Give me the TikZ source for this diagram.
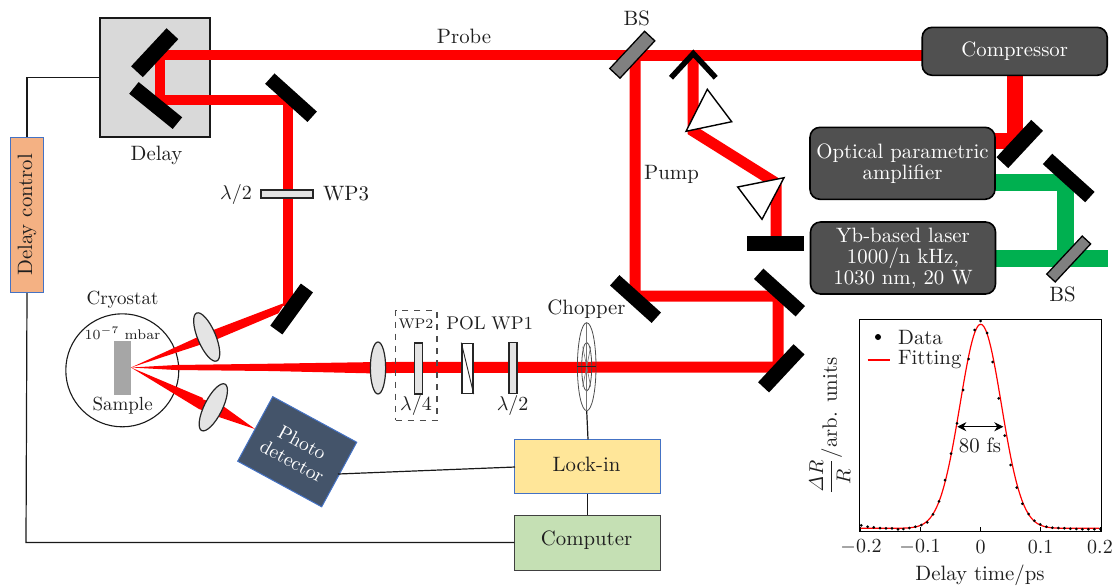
\documentclass[tikz,border=0pt]{standalone}
\usetikzlibrary{shapes.geometric,arrows.meta}
\def\P{0.5pt}
\definecolor{beamred}{RGB}{255,0,0}
\definecolor{beamgreen}{RGB}{0,176,80}
\definecolor{darkbox}{RGB}{80,80,80}
\definecolor{lensgray}{RGB}{228,228,228}
\definecolor{edgeblue}{RGB}{68,114,196}
\definecolor{ctlorange}{RGB}{244,177,131}
\tikzset{
  every node/.style={font=\fontsize{10.4}{10.5}\selectfont,text=black!88,inner sep=0pt},
  smalllabel/.style={font=\fontsize{9.5}{10}\selectfont},
  tinylabel/.style={font=\fontsize{7}{8}\selectfont},
  beam/.style={draw=beamred,line width=10*\P,line join=miter},
  beamwide/.style={draw=beamred,line width=11*\P,line join=miter},
  beamfat/.style={draw=beamred,line width=16.5*\P,line join=miter},
  gbeam/.style={draw=beamgreen,line width=17*\P,line join=miter},
  mirror/.style={fill=black,rectangle,minimum width=56*\P,minimum height=15*\P},
  splitter/.style={fill=black!50,draw=black,line width=1.3*\P,rectangle,minimum width=51*\P,minimum height=14*\P},
  lens/.style={ellipse,fill=lensgray,draw=black!85,line width=1.2*\P,minimum width=15.3*\P,minimum height=52*\P},
  plate/.style={rectangle,fill=lensgray,draw=black!85,line width=1.4*\P,minimum width=8*\P,minimum height=51*\P},
  darkunit/.style={rectangle,rounded corners=5pt,fill=darkbox,draw=black,line width=1.6*\P,minimum width=185*\P,text=white!92,align=center},
  wire/.style={draw=black!90,line width=1.2*\P},
  elec/.style={rectangle,line width=1*\P,draw=edgeblue},
  chop/.style={ellipse,draw=black!70,line width=.8*\P},
  spoke/.style={draw=black!55,line width=.6*\P},
  prism/.style={fill=white,draw=black,line width=1.4*\P,line join=miter}
}
\begin{document}
\begin{tikzpicture}[x=0.5pt,y=-0.5pt]
\useasboundingbox (0,0) rectangle (1117,586);

% delay stage
\node[rectangle,fill=black!15,draw=black!90,line width=1.5*\P,minimum width=110*\P,minimum height=119*\P] (delaybox) at (155,77.5) {};

% cryostat
\node[circle,draw=black!90,line width=1.1*\P,minimum size=113*\P] (cryo) at (122.3,370.3) {};
\fill[black!35] (113.7,341.3) rectangle (131,394.7);

% beam vertices
\coordinate (pA) at (922,55);
\coordinate (pB) at (634,55);
\coordinate (pC) at (160,55);
\coordinate (pD) at (160,100);
\coordinate (pE) at (288,100);
\coordinate (pF) at (288,306);
\coordinate (s0) at (131,367.5);
\coordinate (q1) at (635,55);
\coordinate (q2) at (635,296);
\coordinate (q3) at (778,296);
\coordinate (q4) at (778,367);
\coordinate (q5) at (378,367.5);
\coordinate (r1) at (693,55);
\coordinate (r2) at (693,131);
\coordinate (r3) at (776,183);
\coordinate (r4) at (776,238);
\coordinate (c1) at (1015,75);
\coordinate (c2) at (1015,141);
\coordinate (c3) at (995,141);
\coordinate (g1) at (995,182.7);
\coordinate (g2) at (1065,182.7);
\coordinate (g3) at (1065,258);
\coordinate (g4) at (995,258);
\coordinate (g5) at (1107.7,258);

% beams
\draw[beam] (pB) -- (pC) -- (pD) -- (pE) -- (pF);
\draw[beamwide] (pA) -- (pB);
\draw[beamwide] (q1) -- (q2) -- (q3) -- (q4) -- (q5);
\draw[beamwide] (r1) -- (r2) -- (r3) -- (r4);
\draw[beamfat] (c1) -- (c2) -- (c3);
\draw[gbeam] (g1) -- (g2) -- (g3);
\draw[gbeam] (g4) -- (g5);
\fill[beamred] (s0) -- (213.3,330) -- (285,302.7) -- (278.3,313.3) -- (216.7,339.3) -- cycle;
\fill[beamred] (s0) -- (176,365) -- (270,363.7) -- (378,362) -- (378,373.5) -- (270,371) -- (176,370) -- cycle;
\fill[beamred] (s0) -- (203,398) -- (199,409) -- cycle;
\fill[beamred] (199,398) -- (199,409) -- (223,417) -- (223,406) -- cycle;
\fill[beamred] (221,404.5) -- (216,416) -- (255,429) -- cycle;

% delay mirrors
\node[mirror,rotate=47,minimum width=52*\P,minimum height=16*\P] (md1) at (154.7,52.7) {};
\node[mirror,rotate=-39] (md2) at (155.7,105.5) {};
\node[mirror,rotate=-42,minimum width=57*\P,minimum height=14*\P] (m3) at (291,97.7) {};
\node[mirror,rotate=54,minimum width=52*\P] (m4) at (291.6,309) {};
\node (delaylabel) at (156.6,155) {Delay};
\node (probe) at (464,36) {Probe};
\node (pump) at (671.5,174.5) {Pump};
\node (bs1label) at (636.7,18.5) {BS};
\node (bs2label) at (1062.5,294) {BS};

% WP3
\node[plate,minimum width=52*\P,minimum height=8*\P] (wp3) at (287,194) {};
\node (wp3a) at (236,194) {$\lambda/2$};
\node (wp3b) at (346,194) {WP3};

% mirrors and splitters of the pump line
\node[splitter,rotate=47] (bs1) at (632.3,54.7) {};
\node[mirror,rotate=-42,minimum width=56*\P,minimum height=14*\P] (m5) at (635.5,299) {};
\node[mirror,rotate=-42,minimum width=56*\P,minimum height=14*\P] (m6) at (779.5,292.5) {};
\node[mirror,rotate=47,minimum width=52*\P] (m7) at (781.3,368.3) {};
\node[mirror,minimum width=57*\P,minimum height=15*\P] (m8) at (775.7,243.7) {};
\node[mirror,rotate=47,minimum width=51*\P,minimum height=16*\P] (m9) at (1019.7,144) {};
\node[mirror,rotate=-42,minimum width=57*\P,minimum height=14*\P] (m10) at (1068.7,178) {};
\node[splitter,rotate=47,minimum width=52*\P,minimum height=11.5*\P] (bs2) at (1068.7,259) {};

% roof mirror
\coordinate (roofL) at (671,77.7);
\coordinate (roofT) at (693.3,53.5);
\coordinate (roofR) at (715.7,77.7);
\draw[black,line width=5.5*\P,line join=miter] (roofL) -- (roofT) -- (roofR);

% prisms
\draw[prism] (707.3,89.3) -- (731.7,121.7) -- (686,131.3) -- cycle;
\draw[prism] (737.7,187) -- (784,177.7) -- (762,219.3) -- cycle;

% source boxes
\node[darkunit,minimum height=48*\P] (comp) at (1014.7,51.3) {Compressor};
\node[darkunit,minimum height=72*\P] (opa) at (902.5,163.3) {Optical parametric\\amplifier};
\node[darkunit,minimum height=72*\P] (yb) at (903,258) {Yb-based laser\\1000/n kHz,\\1030 nm, 20 W};

\node[smalllabel] (cryolabel) at (122.5,300) {Cryostat};
\node[tinylabel] (vac) at (122.6,333.5) {$10^{-7}$ mbar};
\node[smalllabel] (sample) at (122.6,406) {Sample};

% lenses
\node[lens,rotate=22.8,minimum width=18*\P] (l1) at (206.7,337) {};
\node[lens,rotate=-26.6,minimum width=18*\P] (l2) at (213.3,407.3) {};
\node[lens] (l3) at (378,368) {};

% optics row
\node[rectangle,draw=black!70,dashed,line width=1.1*\P,minimum width=41.3*\P,minimum height=110*\P] (wpbox) at (416.3,365.2) {};
\node[plate] (wp2) at (418.3,368.3) {};
\node[plate,fill=white,minimum width=11*\P,minimum height=50*\P] (pol) at (467.5,368.3) {};
\draw[black!85,line width=.9*\P] (pol.north west) -- (pol.south east);
\node[plate] (wp1) at (513,368) {};
\node[tinylabel] (wp2a) at (416,323.5) {WP2};
\node (wp2b) at (416,405) {$\lambda/4$};
\node[font=\fontsize{9.2}{10}\selectfont] (pollabel) at (466,323) {POL};
\node[font=\fontsize{9.2}{10}\selectfont] (wp1a) at (512.3,323) {WP1};
\node (wp1b) at (512.6,405) {$\lambda/2$};

% chopper
\node[chop,minimum width=18.6*\P,minimum height=88*\P] (chopper) at (586.7,366.7) {};
\node[chop,minimum width=10*\P,minimum height=48.6*\P] (chopin) at (586.7,366.7) {};
\draw[spoke] (chopper.north) -- (chopper.south);
\draw[spoke] ([shift={(-4,-20)}]chopin.center) -- ([shift={(4,20)}]chopin.center);
\draw[spoke] ([shift={(4,-20)}]chopin.center) -- ([shift={(-4,20)}]chopin.center);
\draw[black!85,line width=.7*\P] (chopper.west) -- (chopper.east);
\node (choplabel) at (586.5,309) {Chopper};

% electronics
\node[elec,rotate=90,fill=ctlorange,minimum width=155.4*\P,minimum height=32.6*\P] (dctl) at (27,215) {Delay control};
\node[elec,fill={rgb,255:red,255;green,230;blue,153},minimum width=145.7*\P,minimum height=54.4*\P] (lock) at (587.8,466.5) {};
\node (locktext) at (586.5,464) {Lock-in};
\node[rectangle,fill={rgb,255:red,197;green,224;blue,180},draw=black!75,line width=1*\P,minimum width=145.7*\P,minimum height=55*\P] (comput) at (587.8,542.5) {};
\node (comptext) at (586.5,540) {Computer};
\node[elec,rotate=-28.5,fill={rgb,255:red,68;green,84;blue,106},minimum width=95.6*\P,minimum height=73.5*\P,text=white!92,align=center,font=\fontsize{9.8}{10.5}\selectfont] (pd) at (297.2,451.7) {Photo\\detector};

\coordinate (w1) at (27,77.5);
\coordinate (w2) at (26,542.5);
\coordinate (w3) at (338,474);
\coordinate (w4) at (515,467);
\coordinate (w5) at (588,439.3);
\draw[wire] (delaybox.west) -- (w1) -- (dctl.east);
\draw[wire] (dctl.west) -- (w2) -- (comput.west);
\draw[wire] (w3) -- (w4);
\draw[wire] (chopper.south) -- (w5);
\draw[wire] (lock.south) -- (comput.north);

% inset plot
\draw[black,line width=1*\P] (859.7,319.3) rectangle (1101.7,531.3);
\foreach \t in {-0.2,-0.1,0,0.1,0.2}
  \draw[black,line width=.8*\P] ({980.7+600*\t},531.3) -- ({980.7+600*\t},526.8);
\draw[beamred,line width=1.2*\P] plot[domain=-0.2:0.2,samples=160,smooth] ({980.7+600*\x},{528.3-204*exp(-0.5*(\x/0.0345)^2)});
\foreach \a/\b in {184/646,203/650,221/652,240/654,258/655,276/655,294/658,310/657,328/654,346/650,364/645,382/637,399/613,417/574,435/510,453/431,471/340,489/240,506/147,524/60,542/33,561/69,578/156,596/265,614/377,632/465,650/533,667/581,686/612,703/632,721/643,739/650,757/653,775/654,793/655,811/656,829/657,847/658,865/658,883/658,901/657}
  \fill[black] ({\a/3+800},{\b/3+310}) circle (1.5);
\fill[black] (878,337) circle (3);
\draw[beamred,line width=1.3*\P] (867.7,360) -- (890,360);
\node[anchor=west] (legA) at (897.7,337) {Data};
\node[anchor=west] (legB) at (897.7,360) {Fitting};
\coordinate (arL) at (957.3,426.7);
\coordinate (arR) at (1003.3,426.7);
\draw[black,line width=1*\P,{Stealth[length=4.5pt,width=4.5pt]}-{Stealth[length=4.5pt,width=4.5pt]}] (arL) -- (arR);
\node (fwhm) at (980,445) {80 fs};
\node (t1) at (861,546.7) {$-0.2$};
\node (t2) at (920,546.7) {$-0.1$};
\node (t3) at (980.5,546.7) {$0$};
\node (t4) at (1040.7,546.7) {$0.1$};
\node (t5) at (1100,546.7) {$0.2$};
\node (xlab) at (980,575) {Delay time/ps};
\node[rotate=90] (ylab) at (830,426) {$\displaystyle\frac{\mathit{\Delta} R}{R}$/arb. units};
\end{tikzpicture}
\end{document}
